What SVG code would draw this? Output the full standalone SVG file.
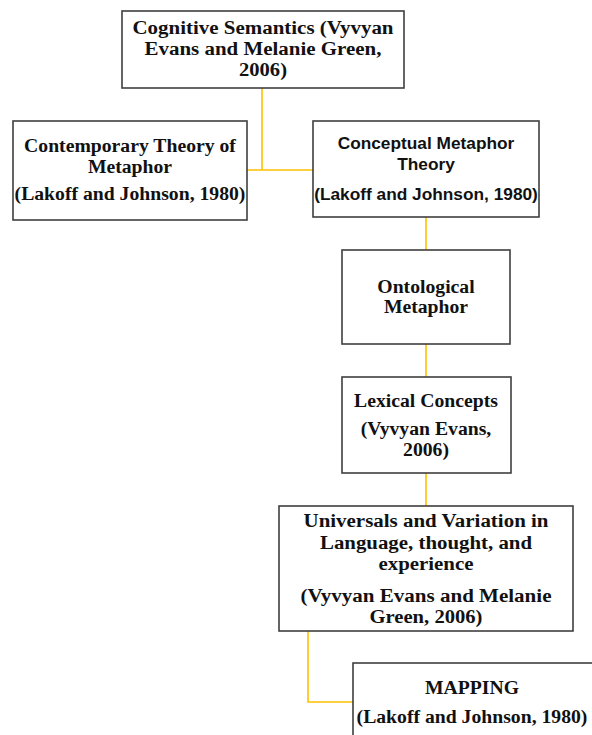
<svg xmlns="http://www.w3.org/2000/svg" width="592" height="735" viewBox="0 0 592 735">
<style>
.box{fill:#fff;stroke:#3f3f3f;stroke-width:1.6}
.t{font-family:"Liberation Serif","Times New Roman",serif;font-weight:bold;font-size:19.7px;fill:#111;text-anchor:middle}
.s{font-family:"Liberation Sans",Arial,sans-serif;font-weight:bold;font-size:17.3px;fill:#111;text-anchor:middle}
.c{fill:none;stroke:#FFC000;stroke-width:1.6}
</style>
<rect width="592" height="735" fill="#fff"/>
<g id="connectors">
<path class="c" d="M262,88 V170 M247,170 H314"/>
<path class="c" d="M426,217 V250"/>
<path class="c" d="M426,344 V377"/>
<path class="c" d="M426,473 V506"/>
<path class="c" d="M308,631 V702 H353"/>
</g>
<g id="n1">
<rect class="box" x="122" y="11" width="282" height="77"/>
<text class="t"><tspan x="263" y="34" textLength="261" lengthAdjust="spacingAndGlyphs">Cognitive Semantics (Vyvyan</tspan><tspan x="263" y="55" textLength="237" lengthAdjust="spacingAndGlyphs">Evans and Melanie Green,</tspan><tspan x="263" y="76" textLength="48" lengthAdjust="spacingAndGlyphs">2006)</tspan></text>
</g>
<g id="n2">
<rect class="box" x="13" y="121" width="234" height="99"/>
<text class="t"><tspan x="130" y="152">Contemporary Theory of</tspan><tspan x="130" y="173">Metaphor</tspan></text>
<text class="t" x="130" y="200">(Lakoff and Johnson, 1980)</text>
</g>
<g id="n3">
<rect class="box" x="313" y="121" width="226" height="96"/>
<text class="s"><tspan x="426" y="149">Conceptual Metaphor</tspan><tspan x="426" y="170">Theory</tspan></text>
<text class="s" x="426" y="200">(Lakoff and Johnson, 1980)</text>
</g>
<g id="n4">
<rect class="box" x="342" y="250" width="168" height="94"/>
<text class="t"><tspan x="426" y="293">Ontological</tspan><tspan x="426" y="313">Metaphor</tspan></text>
</g>
<g id="n5">
<rect class="box" x="342" y="377" width="169" height="96"/>
<text class="t" x="426" y="407">Lexical Concepts</text>
<text class="t"><tspan x="426" y="435">(Vyvyan Evans,</tspan><tspan x="426" y="456">2006)</tspan></text>
</g>
<g id="n6">
<rect class="box" x="279" y="506" width="294" height="125"/>
<text class="t"><tspan x="426" y="527" textLength="245" lengthAdjust="spacingAndGlyphs">Universals and Variation in</tspan><tspan x="426" y="549" textLength="212" lengthAdjust="spacingAndGlyphs">Language, thought, and</tspan><tspan x="426" y="570" textLength="95" lengthAdjust="spacingAndGlyphs">experience</tspan></text>
<text class="t"><tspan x="426" y="602" textLength="251" lengthAdjust="spacingAndGlyphs">(Vyvyan Evans and Melanie</tspan><tspan x="426" y="623" textLength="113" lengthAdjust="spacingAndGlyphs">Green, 2006)</tspan></text>
</g>
<g id="n7">
<rect class="box" x="353" y="663" width="240" height="90"/>
<text class="t" x="472" y="694">MAPPING</text>
<text class="t" x="472" y="723">(Lakoff and Johnson, 1980)</text>
</g>
</svg>
